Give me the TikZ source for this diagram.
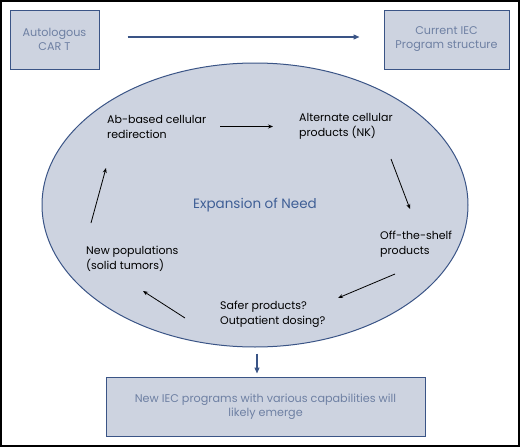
\documentclass[tikz,border=0pt]{standalone}
\usepackage{fontspec}
\setmainfont{Poppins}
\usetikzlibrary{arrows.meta}
\usetikzlibrary{shapes.geometric}
\definecolor{panelfill}{HTML}{CDD3E0}
\definecolor{panelline}{HTML}{3A5486}
\definecolor{paneltext}{HTML}{6E80A3}
\definecolor{needtext}{HTML}{3F5F96}
\begin{document}
\begin{tikzpicture}
[x=1pt,y=-1pt,%
  every node/.style={inner sep=2pt,font=\fontsize{11}{15}\selectfont},%
  stagebox/.style={rectangle,draw=panelline,fill=panelfill,line width=1pt,
    text=paneltext,align=center,font=\fontsize{11.2}{14}\selectfont},%
  stage/.style={anchor=west,align=left,text=black},%
  cycle/.style={-{Stealth[length=5pt,width=4pt]},line width=0.8pt,black},%
  flow/.style={-{Triangle[length=6pt,width=5pt]},line width=1.3pt,panelline}]
\useasboundingbox (0,0) rectangle (520,447);
\draw[line width=2pt] (1,1) rectangle (519,446);
% top row
\node[stagebox,minimum width=89pt,minimum height=59pt] (auto) at (54.5,39.5)
  {Autologous\\CAR T};
\node[stagebox,minimum width=125pt,minimum height=59pt] (iec) at (446.5,39.5)
  {Current IEC\\Program structure};
\draw[flow,shorten <=28pt,shorten >=24pt]
  ([yshift=2.5pt]auto.east) -- ([yshift=2.5pt]iec.west);
% the cycle
\node[ellipse,draw=panelline,fill=panelfill,line width=1pt,
  minimum width=426pt,minimum height=284pt,text=needtext,
  font=\fontsize{13.5}{16}\selectfont] (need) at (255,205) {Expansion of Need};
\node[stage] (ab) at (105,126.5) {Ab-based cellular\\redirection};
\node[stage] (alt) at (297,126.5) {Alternate cellular\\products (NK)};
\node[stage] (off) at (378,244) {Off-the-shelf\\products};
\node[stage] (safer) at (218,314.5) {Safer products?\\Outpatient dosing?};
\node[stage] (newpop) at (84,259) {New populations\\(solid tumors)};
\draw[cycle] ([shift={(115,0)}]ab.west) -- ([shift={(-24,0)}]alt.west);
\draw[cycle] ([shift={(94,32.5)}]alt.west) -- ([shift={(32,-35)}]off.west);
\draw[cycle] ([shift={(17,30)}]off.west) -- ([shift={(120,-16.5)}]safer.west);
\draw[cycle] ([shift={(-33,3.5)}]safer.west) -- ([shift={(59,32)}]newpop.west);
\draw[cycle] ([shift={(7,-36)}]newpop.west) -- ([shift={(1,41.5)}]ab.west);
% outcome
\node[stagebox,minimum width=319pt,minimum height=59pt] (newiec) at (265.5,406.5)
  {New IEC programs with various capabilities will\\likely emerge};
\draw[flow,shorten <=6pt,shorten >=3pt]
  ([xshift=2pt]need.south) -- ([xshift=2pt]need.south |- newiec.north);
\end{tikzpicture}
\end{document}
